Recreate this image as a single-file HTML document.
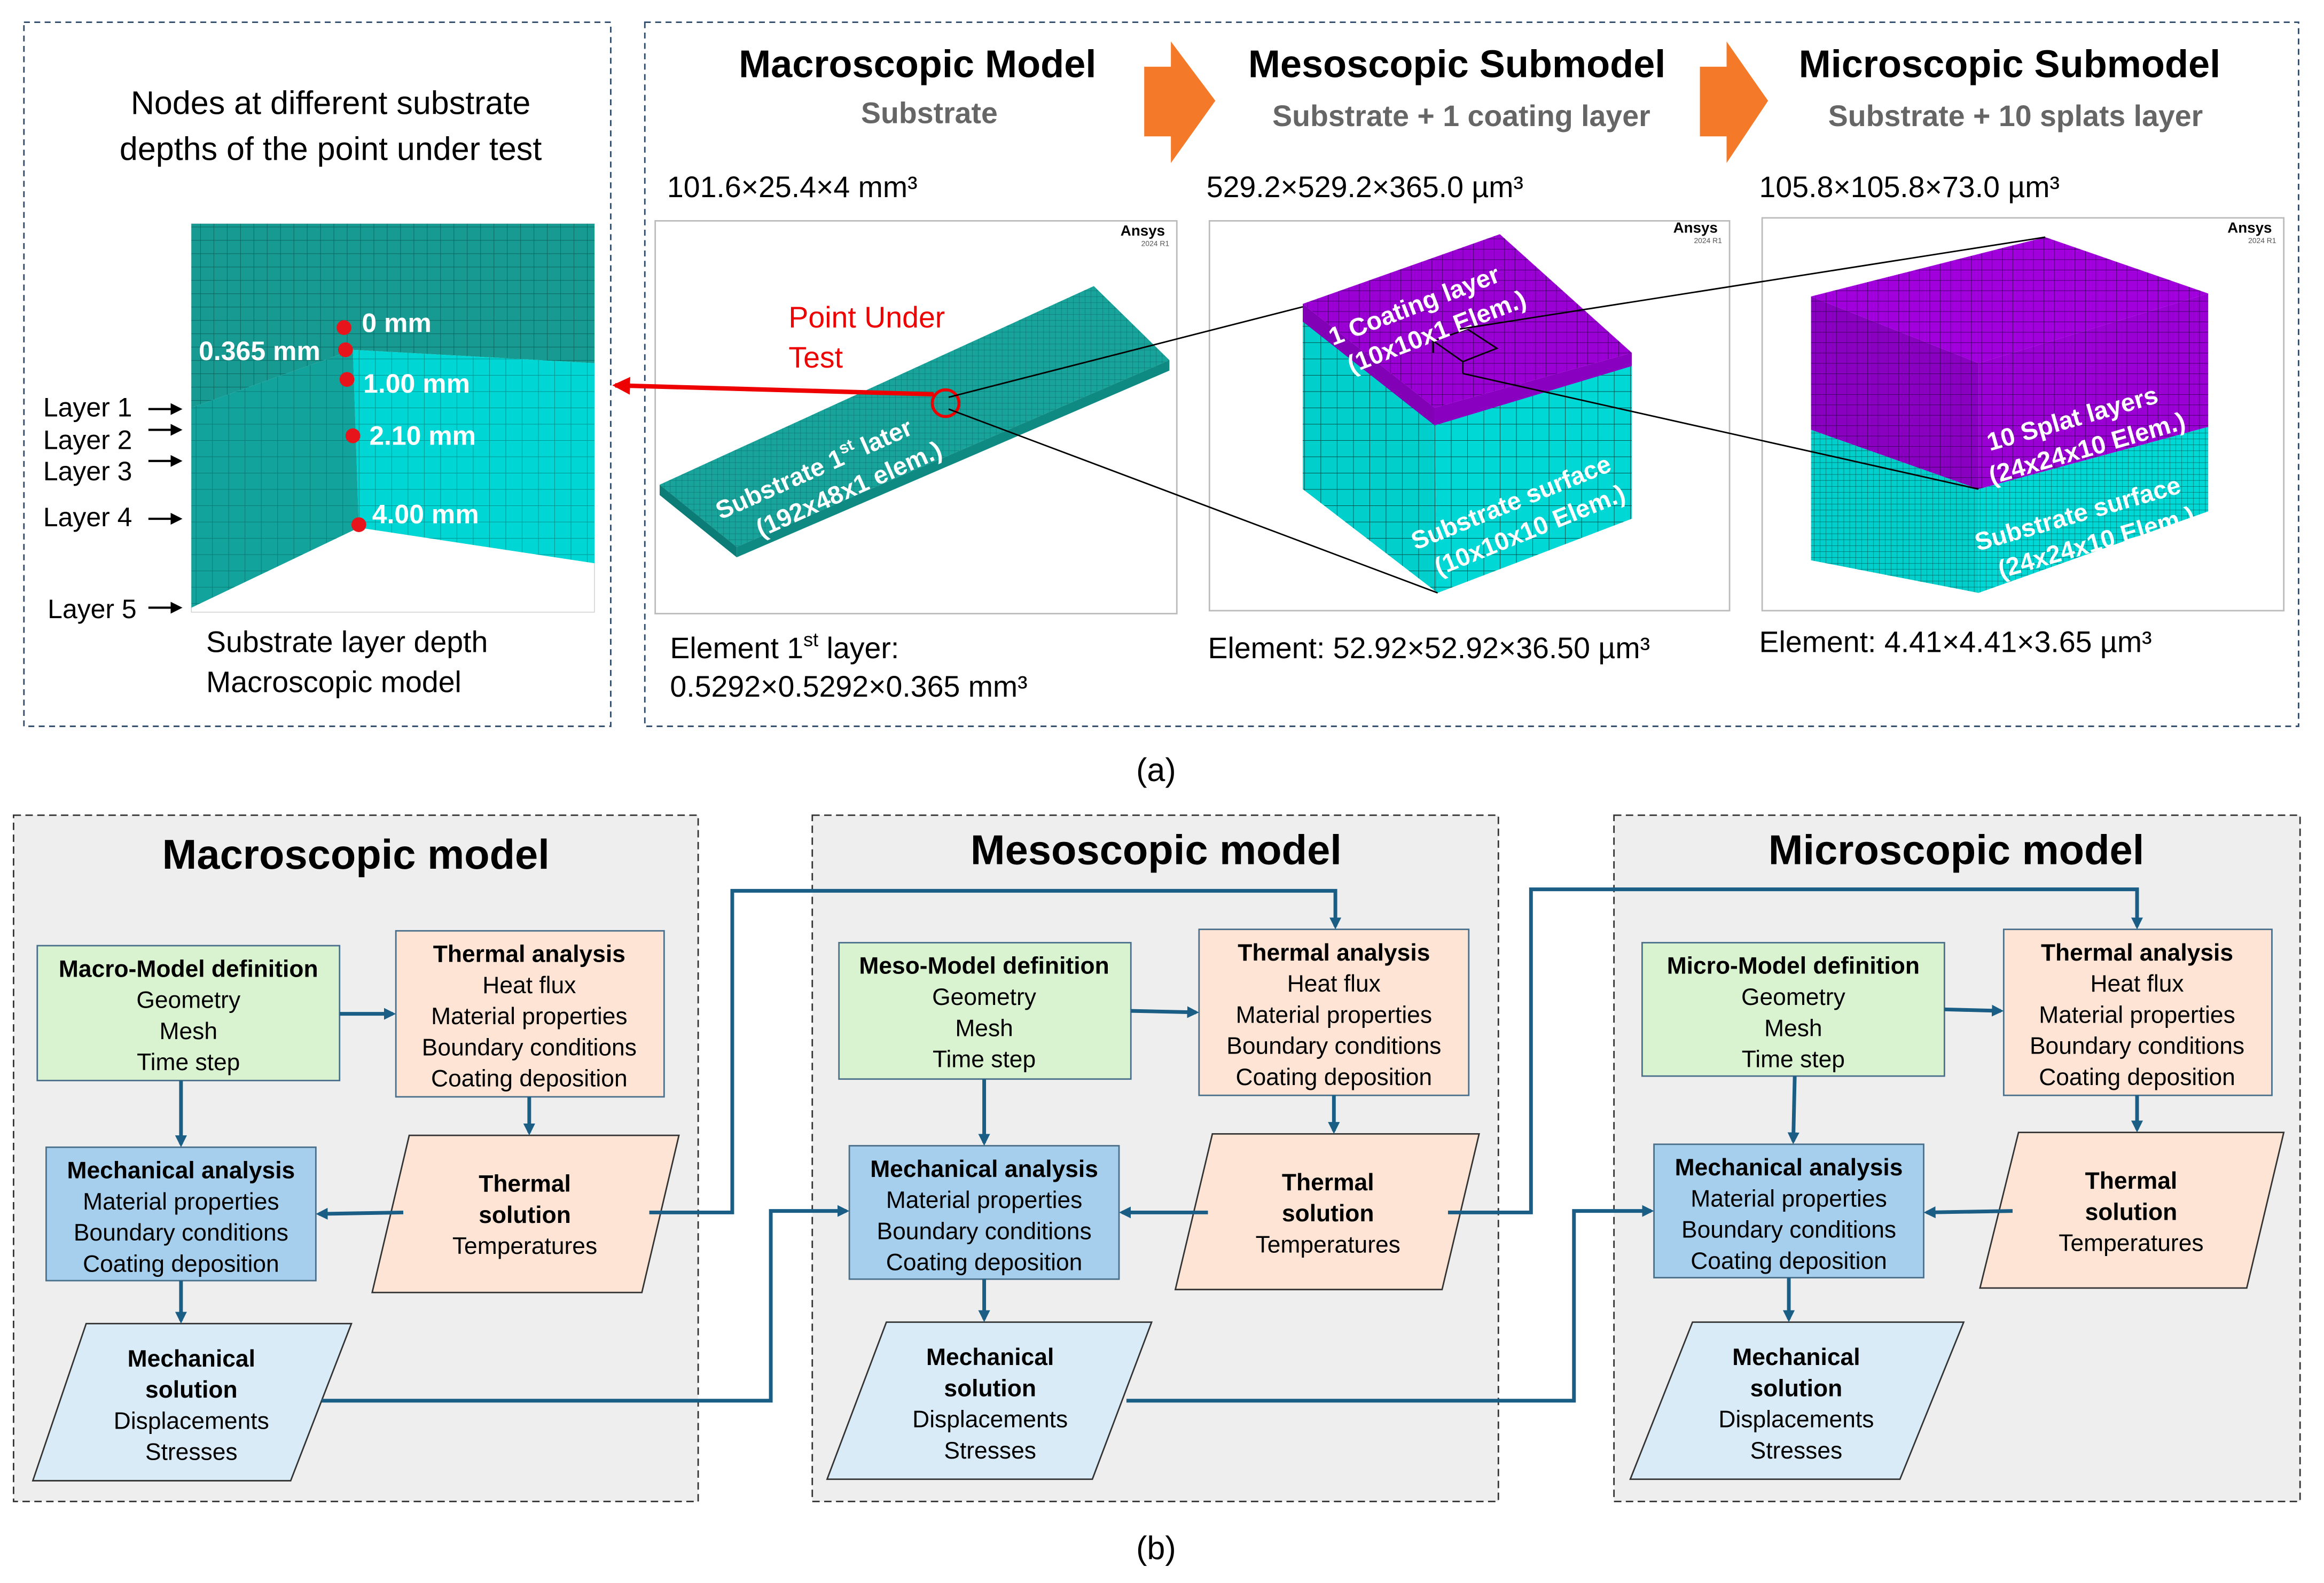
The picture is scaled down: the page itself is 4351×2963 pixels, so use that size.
<!DOCTYPE html>
<html><head><meta charset="utf-8"><style>
html,body{margin:0;padding:0;background:#fff;}
svg{display:block;}
text{font-family:"Liberation Sans",Arial,sans-serif;}
</style></head><body>
<svg width="4351" height="2963" viewBox="0 0 1568 1068" xmlns="http://www.w3.org/2000/svg">
<defs>
<pattern id="g1" width="9" height="9" patternUnits="userSpaceOnUse"><path d="M0 0H9M0 0V9" stroke="#0b5f5a" stroke-width="0.6" fill="none"/></pattern>
<pattern id="g2" width="11" height="11" patternUnits="userSpaceOnUse"><path d="M0 0H11M0 0V11" stroke="#06504c" stroke-width="0.7" fill="none"/></pattern>
<pattern id="g3" width="7" height="7" patternUnits="userSpaceOnUse"><path d="M0 0H7M0 0V7" stroke="#3b0060" stroke-width="0.6" fill="none"/></pattern>
<pattern id="g4" width="4" height="4" patternUnits="userSpaceOnUse"><path d="M0 0H4M0 0V4" stroke="#06504c" stroke-width="0.4" fill="none"/></pattern>
<marker id="ah" markerWidth="8" markerHeight="8" refX="6" refY="4" orient="auto" markerUnits="userSpaceOnUse"><path d="M0,0 L8,4 L0,8z" fill="#1a5e86"/></marker>
<marker id="ahk" markerWidth="8" markerHeight="8" refX="6" refY="4" orient="auto" markerUnits="userSpaceOnUse"><path d="M0,0 L8,4 L0,8z" fill="#000"/></marker>
<marker id="ahr" markerWidth="12" markerHeight="12" refX="10" refY="6" orient="auto" markerUnits="userSpaceOnUse"><path d="M0,0 L12,6 L0,12z" fill="#e00"/></marker>
</defs>

<rect x="16" y="15" width="396" height="475" fill="none" stroke="#2e4a6a" stroke-width="1" stroke-dasharray="4,3"/>
<rect x="435" y="15" width="1116" height="475" fill="none" stroke="#2e4a6a" stroke-width="1" stroke-dasharray="4,3"/>

<rect x="129" y="151" width="272" height="262" fill="#fff" stroke="#ccc" stroke-width="0.5"/>
<polygon points="129,151 401,151 401,245 238,236 129,275" fill="#169a92"/>
<polygon points="129,151 401,151 401,245 238,236 129,275" fill="url(#g1)"/>
<polygon points="238,236 401,245 401,380 242,356" fill="#00d6d4"/>
<polygon points="238,236 401,245 401,380 242,356" fill="url(#g2)" opacity="0.5"/>
<polygon points="129,275 238,236 242,356 129,410" fill="#12a39c"/>
<polygon points="129,275 238,236 242,356 129,410" fill="url(#g2)" opacity="0.5"/>
<g fill="#e8141c"><circle cx="232" cy="221" r="5"/><circle cx="233" cy="236" r="5"/><circle cx="234" cy="256" r="5"/><circle cx="238" cy="294" r="5"/><circle cx="242" cy="354" r="5"/></g>
<g fill="#fff" font-weight="bold" font-size="18">
<text x="244" y="224">0 mm</text><text x="134" y="243">0.365 mm</text><text x="245" y="265">1.00 mm</text><text x="249" y="300">2.10 mm</text><text x="251" y="353">4.00 mm</text></g>
<g font-size="22" fill="#000" text-anchor="middle">
<text x="223" y="77">Nodes at different substrate</text>
<text x="223" y="108">depths of the point under test</text></g>
<g font-size="18" fill="#000">
<text x="29" y="281">Layer 1</text><text x="29" y="303">Layer 2</text><text x="29" y="324">Layer 3</text><text x="29" y="355">Layer 4</text><text x="32" y="417">Layer 5</text></g>
<g font-size="20" fill="#000">
<text x="139" y="440">Substrate layer depth</text><text x="139" y="467">Macroscopic model</text></g>
<g stroke="#000" stroke-width="1.5" marker-end="url(#ahk)">
<line x1="100" y1="276" x2="121" y2="276"/><line x1="100" y1="290" x2="121" y2="290"/><line x1="100" y1="311" x2="121" y2="311"/><line x1="100" y1="350" x2="121" y2="350"/><line x1="100" y1="410" x2="121" y2="410"/></g>

<g font-weight="bold" text-anchor="middle">
<text x="619" y="52" font-size="26">Macroscopic Model</text>
<text x="627" y="83" font-size="20" fill="#666">Substrate</text>
<text x="983" y="52" font-size="26">Mesoscopic Submodel</text>
<text x="986" y="85" font-size="20" fill="#666">Substrate + 1 coating layer</text>
<text x="1356" y="52" font-size="26">Microscopic Submodel</text>
<text x="1360" y="85" font-size="20" fill="#666">Substrate + 10 splats layer</text></g>
<polygon points="772,45 790,45 790,28 820,68 790,110 790,92 772,92" fill="#f47a2a"/>
<polygon points="1147,45 1165,45 1165,28 1193,68 1165,110 1165,92 1147,92" fill="#f47a2a"/>
<g font-size="20">
<text x="450" y="133">101.6×25.4×4 mm³</text>
<text x="814" y="133">529.2×529.2×365.0 µm³</text>
<text x="1187" y="133">105.8×105.8×73.0 µm³</text>
<text x="452" y="444">Element 1<tspan font-size="13" dy="-8">st</tspan><tspan dy="8"> layer:</tspan></text>
<text x="452" y="470">0.5292×0.5292×0.365 mm³</text>
<text x="815" y="444">Element: 52.92×52.92×36.50 µm³</text>
<text x="1187" y="440">Element: 4.41×4.41×3.65 µm³</text></g>

<rect x="442" y="149" width="352" height="265" fill="#fff" stroke="#bbb"/>
<rect x="816" y="149" width="351" height="263" fill="#fff" stroke="#bbb"/>
<rect x="1189" y="147" width="352" height="265" fill="#fff" stroke="#bbb"/>
<g font-size="10" font-weight="bold"><text x="756" y="159">Ansys</text><text x="1129" y="157">Ansys</text><text x="1503" y="157">Ansys</text></g>
<g font-size="5" fill="#555"><text x="770" y="166">2024 R1</text><text x="1143" y="164">2024 R1</text><text x="1517" y="164">2024 R1</text></g>

<polygon points="445,327 738,193 789,243 497,369" fill="#18a39b"/>
<polygon points="445,327 738,193 789,243 497,369" fill="url(#g4)" opacity="0.6"/>
<polygon points="445,327 497,369 497,376 445,334" fill="#0c7c76"/>
<polygon points="497,369 789,243 789,250 497,376" fill="#0e8a83"/>
<g fill="#fff" font-weight="bold" font-size="17" transform="rotate(-24 560 320)">
<text x="480" y="318">Substrate 1<tspan font-size="11" dy="-7">st</tspan><tspan dy="7"> later</tspan></text>
<text x="500" y="340">(192x48x1 elem.)</text></g>
<text x="532" y="221" font-size="20" fill="#e00">Point Under</text>
<text x="532" y="248" font-size="20" fill="#e00">Test</text>
<circle cx="638" cy="272" r="9" fill="none" stroke="#e00" stroke-width="2"/>
<line x1="630" y1="266" x2="415" y2="260" stroke="#e00" stroke-width="3" marker-end="url(#ahr)"/>

<polygon points="879,215 968,285 970,400 879,330" fill="#00cfcc"/>
<polygon points="968,285 1101,245 1101,350 970,400" fill="#00d8d6"/>
<polygon points="879,215 968,285 970,400 879,330" fill="url(#g2)"/>
<polygon points="968,285 1101,245 1101,350 970,400" fill="url(#g2)"/>
<polygon points="879,205 1012,158 1101,238 968,275" fill="#9a00d4"/>
<polygon points="879,205 968,275 968,287 879,217" fill="#8200b5"/>
<polygon points="968,275 1101,238 1101,247 968,287" fill="#8a00c0"/>
<polygon points="879,205 1012,158 1101,238 968,275" fill="url(#g3)"/>
<g stroke="#000" stroke-width="1" fill="none"><polygon points="967,230 990,222 1010,235 987,244"/><line x1="987" y1="244" x2="987" y2="252"/><line x1="967" y1="230" x2="967" y2="238"/></g>
<g fill="#fff" font-weight="bold" font-size="17" transform="rotate(-21 960 210)">
<text x="895" y="210">1 Coating layer</text><text x="900" y="232">(10x10x1 Elem.)</text></g>
<g fill="#fff" font-weight="bold" font-size="17" transform="rotate(-22 1020 345)">
<text x="950" y="345">Substrate surface</text><text x="958" y="367">(10x10x10 Elem.)</text></g>

<polygon points="1222,200 1335,245 1335,330 1222,290" fill="#8a00c0"/>
<polygon points="1335,245 1490,198 1490,288 1335,330" fill="#9a00d4"/>
<polygon points="1222,290 1335,330 1335,400 1222,378" fill="#00cfcc"/>
<polygon points="1335,330 1490,288 1490,345 1335,400" fill="#00d8d6"/>
<polygon points="1222,200 1335,245 1335,330 1222,290" fill="url(#g3)"/>
<polygon points="1335,245 1490,198 1490,288 1335,330" fill="url(#g3)"/>
<polygon points="1222,290 1335,330 1335,400 1222,378" fill="url(#g4)"/>
<polygon points="1335,330 1490,288 1490,345 1335,400" fill="url(#g4)"/>
<polygon points="1222,200 1380,160 1490,198 1335,245" fill="#a100dc"/>
<polygon points="1222,200 1380,160 1490,198 1335,245" fill="url(#g3)"/>
<g fill="#fff" font-weight="bold" font-size="17" transform="rotate(-16 1410 285)">
<text x="1340" y="285">10 Splat layers</text><text x="1335" y="307">(24x24x10 Elem.)</text></g>
<g fill="#fff" font-weight="bold" font-size="17" transform="rotate(-16 1410 345)">
<text x="1330" y="350">Substrate surface</text><text x="1340" y="372">(24x24x10 Elem.)</text></g>

<g stroke="#000" stroke-width="1">
<line x1="640" y1="268" x2="879" y2="207"/><line x1="640" y1="276" x2="970" y2="400"/>
<line x1="985" y1="222" x2="1380" y2="160"/><line x1="987" y1="252" x2="1335" y2="330"/></g>

<text x="780" y="527" font-size="22" text-anchor="middle" font-family="Liberation Serif">(a)</text>
<text x="780" y="1052" font-size="22" text-anchor="middle" font-family="Liberation Serif">(b)</text>

<g fill="#eeeeee" stroke="#333" stroke-dasharray="5,3">
<rect x="9" y="550" width="462" height="463"/><rect x="548" y="550" width="463" height="463"/><rect x="1089" y="550" width="463" height="463"/></g>
<g font-weight="bold" font-size="28" text-anchor="middle">
<text x="240" y="586">Macroscopic model</text><text x="780" y="583">Mesoscopic model</text><text x="1320" y="583">Microscopic model</text></g>

<g font-size="16" text-anchor="middle">
<rect x="25" y="638" width="204" height="91" fill="#d9f2d0" stroke="#4a6f8a"/>
<text x="127" y="659" font-weight="bold">Macro-Model definition</text><text x="127" y="680">Geometry</text><text x="127" y="701">Mesh</text><text x="127" y="722">Time step</text>
<rect x="267" y="628" width="181" height="112" fill="#fde4d4" stroke="#4a6f8a"/>
<text x="357" y="649" font-weight="bold">Thermal analysis</text><text x="357" y="670">Heat flux</text><text x="357" y="691">Material properties</text><text x="357" y="712">Boundary conditions</text><text x="357" y="733">Coating deposition</text>
<rect x="31" y="774" width="182" height="90" fill="#a6cfee" stroke="#4a6f8a"/>
<text x="122" y="795" font-weight="bold">Mechanical analysis</text><text x="122" y="816">Material properties</text><text x="122" y="837">Boundary conditions</text><text x="122" y="858">Coating deposition</text>
<polygon points="276,766 458,766 433,872 251,872" fill="#fde4d4" stroke="#333"/>
<text x="354" y="804" font-weight="bold">Thermal</text><text x="354" y="825" font-weight="bold">solution</text><text x="354" y="846">Temperatures</text>
<polygon points="58,893 237,893 196,999 22,999" fill="#daebf8" stroke="#333"/>
<text x="129" y="922" font-weight="bold">Mechanical</text><text x="129" y="943" font-weight="bold">solution</text><text x="129" y="964">Displacements</text><text x="129" y="985">Stresses</text>
<g stroke="#1a5e86" stroke-width="2.5" fill="none" marker-end="url(#ah)">
<line x1="229" y1="684" x2="265" y2="684"/><line x1="122" y1="729" x2="122" y2="772"/><line x1="357" y1="740" x2="357" y2="764"/><line x1="272" y1="818" x2="215" y2="819"/><line x1="122" y1="864" x2="122" y2="891"/></g>
</g>
<g font-size="16" text-anchor="middle">
<rect x="566" y="636" width="197" height="92" fill="#d9f2d0" stroke="#4a6f8a"/>
<text x="664" y="657" font-weight="bold">Meso-Model definition</text><text x="664" y="678">Geometry</text><text x="664" y="699">Mesh</text><text x="664" y="720">Time step</text>
<rect x="809" y="627" width="182" height="112" fill="#fde4d4" stroke="#4a6f8a"/>
<text x="900" y="648" font-weight="bold">Thermal analysis</text><text x="900" y="669">Heat flux</text><text x="900" y="690">Material properties</text><text x="900" y="711">Boundary conditions</text><text x="900" y="732">Coating deposition</text>
<rect x="573" y="773" width="182" height="90" fill="#a6cfee" stroke="#4a6f8a"/>
<text x="664" y="794" font-weight="bold">Mechanical analysis</text><text x="664" y="815">Material properties</text><text x="664" y="836">Boundary conditions</text><text x="664" y="857">Coating deposition</text>
<polygon points="818,765 998,765 973,870 793,870" fill="#fde4d4" stroke="#333"/>
<text x="896" y="803" font-weight="bold">Thermal</text><text x="896" y="824" font-weight="bold">solution</text><text x="896" y="845">Temperatures</text>
<polygon points="598,892 777,892 737,998 558,998" fill="#daebf8" stroke="#333"/>
<text x="668" y="921" font-weight="bold">Mechanical</text><text x="668" y="942" font-weight="bold">solution</text><text x="668" y="963">Displacements</text><text x="668" y="984">Stresses</text>
<g stroke="#1a5e86" stroke-width="2.5" fill="none" marker-end="url(#ah)">
<line x1="763" y1="682" x2="807" y2="683"/><line x1="664" y1="728" x2="664" y2="771"/><line x1="900" y1="739" x2="900" y2="763"/><line x1="815" y1="818" x2="757" y2="818"/><line x1="664" y1="863" x2="664" y2="890"/></g>
</g>
<g font-size="16" text-anchor="middle">
<rect x="1108" y="636" width="204" height="90" fill="#d9f2d0" stroke="#4a6f8a"/>
<text x="1210" y="657" font-weight="bold">Micro-Model definition</text><text x="1210" y="678">Geometry</text><text x="1210" y="699">Mesh</text><text x="1210" y="720">Time step</text>
<rect x="1352" y="627" width="181" height="112" fill="#fde4d4" stroke="#4a6f8a"/>
<text x="1442" y="648" font-weight="bold">Thermal analysis</text><text x="1442" y="669">Heat flux</text><text x="1442" y="690">Material properties</text><text x="1442" y="711">Boundary conditions</text><text x="1442" y="732">Coating deposition</text>
<rect x="1116" y="772" width="182" height="90" fill="#a6cfee" stroke="#4a6f8a"/>
<text x="1207" y="793" font-weight="bold">Mechanical analysis</text><text x="1207" y="814">Material properties</text><text x="1207" y="835">Boundary conditions</text><text x="1207" y="856">Coating deposition</text>
<polygon points="1362,764 1541,764 1516,869 1336,869" fill="#fde4d4" stroke="#333"/>
<text x="1438" y="802" font-weight="bold">Thermal</text><text x="1438" y="823" font-weight="bold">solution</text><text x="1438" y="844">Temperatures</text>
<polygon points="1142,892 1325,892 1282,998 1100,998" fill="#daebf8" stroke="#333"/>
<text x="1212" y="921" font-weight="bold">Mechanical</text><text x="1212" y="942" font-weight="bold">solution</text><text x="1212" y="963">Displacements</text><text x="1212" y="984">Stresses</text>
<g stroke="#1a5e86" stroke-width="2.5" fill="none" marker-end="url(#ah)">
<line x1="1312" y1="681" x2="1350" y2="682"/><line x1="1211" y1="726" x2="1210" y2="770"/><line x1="1442" y1="739" x2="1442" y2="762"/><line x1="1358" y1="817" x2="1300" y2="818"/><line x1="1207" y1="862" x2="1207" y2="890"/></g>
</g>
<g stroke="#1a5e86" stroke-width="2.5" fill="none" marker-end="url(#ah)">
<polyline points="438,818 494,818 494,601 901,601 901,625"/>
<polyline points="217,945 520,945 520,817 571,817"/>
<polyline points="977,818 1033,818 1033,600 1442,600 1442,625"/>
<polyline points="760,945 1062,945 1062,817 1114,817"/>
</g>
</svg>
</body></html>
